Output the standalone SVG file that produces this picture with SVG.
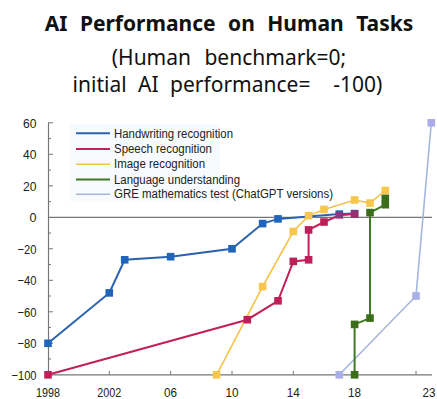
<svg xmlns="http://www.w3.org/2000/svg" width="437" height="399" viewBox="0 0 437 399">
<style>
.title{font-family:"Noto Sans","Liberation Sans",sans-serif;font-weight:bold;font-size:21px;fill:#111;word-spacing:7px}
.sub{font-family:"Noto Sans","Liberation Sans",sans-serif;font-size:21px;fill:#111}
.ax{font-family:"Liberation Sans",Arial,sans-serif;font-size:13px;fill:#222}
.lg{font-family:"Liberation Sans",Arial,sans-serif;font-size:12px;fill:#222}
.axis{stroke:#777;stroke-width:1.2;fill:none}
.tick{stroke:#777;stroke-width:1}
.hw{stroke:#2a62ae;stroke-width:2;fill:none}
.sp{stroke:#c1205a;stroke-width:2;fill:none}
.im{stroke:#f7c24a;stroke-width:1.6;fill:none}
.la{stroke:#3f7a22;stroke-width:2;fill:none}
.gre{stroke:#a4b6de;stroke-width:1.6;fill:none}
.mhw{fill:#2064bc}
.msp{fill:#c01e5a}
.mim{fill:#f7c64c}
.mla{fill:#3b6e1a}
.mgre{fill:#a9aee6}
</style>
<defs>
<rect id="m" x="-3.8" y="-3.8" width="7.6" height="7.6"/>
</defs>
<g id="title">
<text class="title" x="229" y="31" text-anchor="middle">AI Performance on Human Tasks</text>
<text class="sub" x="229" y="65" text-anchor="middle" word-spacing="8">(Human benchmark=0;</text>
<text class="sub" x="227.5" y="92" text-anchor="middle" word-spacing="6" xml:space="preserve">initial AI performance=  -100)</text>
</g>
<g id="axes">
<rect x="70" y="124" width="150" height="78" fill="#f8fbfe"/>
<line class="axis" x1="48.5" y1="123" x2="48.5" y2="375"/>
<line class="axis" x1="48" y1="374.8" x2="432" y2="374.8"/>
<line class="axis" x1="48" y1="217.3" x2="432" y2="217.3" stroke-width="1"/>
<g class="tick">
<line x1="48" y1="122.8" x2="53" y2="122.8"/><line x1="48" y1="138.6" x2="51" y2="138.6"/>
<line x1="48" y1="154.3" x2="53" y2="154.3"/><line x1="48" y1="170.1" x2="51" y2="170.1"/>
<line x1="48" y1="185.8" x2="53" y2="185.8"/><line x1="48" y1="201.6" x2="51" y2="201.6"/>
<line x1="48" y1="233" x2="51" y2="233"/><line x1="48" y1="248.8" x2="53" y2="248.8"/>
<line x1="48" y1="264.5" x2="51" y2="264.5"/><line x1="48" y1="280.3" x2="53" y2="280.3"/>
<line x1="48" y1="296" x2="51" y2="296"/><line x1="48" y1="311.8" x2="53" y2="311.8"/>
<line x1="48" y1="327.5" x2="51" y2="327.5"/><line x1="48" y1="343.3" x2="53" y2="343.3"/>
<line x1="48" y1="359" x2="51" y2="359"/>
<line x1="109.3" y1="371" x2="109.3" y2="374.8"/><line x1="170.6" y1="371" x2="170.6" y2="374.8"/>
<line x1="232" y1="371" x2="232" y2="374.8"/><line x1="293.3" y1="371" x2="293.3" y2="374.8"/>
<line x1="354.6" y1="371" x2="354.6" y2="374.8"/><line x1="416" y1="371" x2="416" y2="374.8"/>
</g>
<g class="ax" text-anchor="end">
<text x="36.5" y="127.5" textLength="13.5" lengthAdjust="spacingAndGlyphs">60</text>
<text x="36.5" y="159" textLength="13.5" lengthAdjust="spacingAndGlyphs">40</text>
<text x="36.5" y="190.5" textLength="13.5" lengthAdjust="spacingAndGlyphs">20</text>
<text x="36.5" y="222" textLength="7" lengthAdjust="spacingAndGlyphs">0</text>
<text x="36.5" y="253.5" textLength="19" lengthAdjust="spacingAndGlyphs">−20</text>
<text x="36.5" y="285" textLength="19" lengthAdjust="spacingAndGlyphs">−40</text>
<text x="36.5" y="316.5" textLength="19" lengthAdjust="spacingAndGlyphs">−60</text>
<text x="36.5" y="348" textLength="19" lengthAdjust="spacingAndGlyphs">−80</text>
<text x="36.5" y="379.5" textLength="25" lengthAdjust="spacingAndGlyphs">−100</text>
</g>
<g class="ax" text-anchor="middle">
<text x="48" y="397" textLength="24" lengthAdjust="spacingAndGlyphs">1998</text>
<text x="109.3" y="397" textLength="24" lengthAdjust="spacingAndGlyphs">2002</text>
<text x="170.6" y="397" textLength="13" lengthAdjust="spacingAndGlyphs">06</text>
<text x="232" y="397" textLength="13" lengthAdjust="spacingAndGlyphs">10</text>
<text x="293.3" y="397" textLength="13" lengthAdjust="spacingAndGlyphs">14</text>
<text x="354.6" y="397" textLength="13" lengthAdjust="spacingAndGlyphs">18</text>
<text x="429" y="397" textLength="13" lengthAdjust="spacingAndGlyphs">23</text>
</g>
</g>
<g id="legend">
<line class="hw" x1="76" y1="133.3" x2="110" y2="133.3"/>
<line class="sp" x1="76" y1="149" x2="110" y2="149"/>
<line class="im" x1="76" y1="164.3" x2="110" y2="164.3"/>
<line class="la" x1="76" y1="179.5" x2="110" y2="179.5"/>
<line class="gre" x1="76" y1="194.3" x2="110" y2="194.3"/>
<text class="lg" x="114" y="137.5" textLength="119" lengthAdjust="spacingAndGlyphs">Handwriting recognition</text>
<text class="lg" x="114" y="153" textLength="98" lengthAdjust="spacingAndGlyphs">Speech recognition</text>
<text class="lg" x="114" y="168.3" textLength="91" lengthAdjust="spacingAndGlyphs">Image recognition</text>
<text class="lg" x="114" y="183.5" textLength="126" lengthAdjust="spacingAndGlyphs">Language understanding</text>
<text class="lg" x="114" y="198.3" textLength="219" lengthAdjust="spacingAndGlyphs">GRE mathematics test (ChatGPT versions)</text>
</g>
<g id="connectors">
<polyline class="hw" points="48,343.3 109.3,292.9 124.7,259.8 170.6,256.7 232,248.8 262.6,223.6 278,218.9 339.3,214.1 354.6,213.6"/>
<polyline class="gre" points="339.3,374.8 416,296 431.3,122.8"/>
<polyline class="im" points="216.6,374.8 262.6,286.6 293.3,231.5 308.6,215.7 324,209.4 354.6,200 370,203.1 385.3,190.5"/>
<polyline class="sp" points="48,374.8 247.3,319.7 278,300.8 293.3,261.4 308.6,259.8 308.6,229.9 324,222 339.3,215.3 354.6,214.1"/>
<polyline class="la" points="354.6,374.8 354.6,324.4 370,318.1 370,212.6 385.3,204.7 385.3,198.4"/>
</g>
<g id="handwriting" class="mhw">
<use href="#m" x="48" y="343.3"/><use href="#m" x="109.3" y="292.9"/><use href="#m" x="124.7" y="259.8"/>
<use href="#m" x="170.6" y="256.7"/><use href="#m" x="232" y="248.8"/><use href="#m" x="262.6" y="223.6"/>
<use href="#m" x="278" y="218.9"/><use href="#m" x="339.3" y="214.1"/><use href="#m" x="354.6" y="213.6"/>
</g>
<g id="gre" class="mgre">
<use href="#m" x="339.3" y="374.8"/><use href="#m" x="416" y="296"/><use href="#m" x="431.3" y="122.8"/>
</g>
<g id="image" class="mim">
<use href="#m" x="216.6" y="374.8"/><use href="#m" x="262.6" y="286.6"/><use href="#m" x="293.3" y="231.5"/>
<use href="#m" x="308.6" y="215.7"/><use href="#m" x="324" y="209.4"/><use href="#m" x="354.6" y="200"/>
<use href="#m" x="370" y="203.1"/><use href="#m" x="385.3" y="190.5"/>
</g>
<g id="speech" class="msp">
<use href="#m" x="48" y="374.8"/><use href="#m" x="247.3" y="319.7"/><use href="#m" x="278" y="300.8"/>
<use href="#m" x="293.3" y="261.4"/><use href="#m" x="308.6" y="259.8"/><use href="#m" x="308.6" y="229.9"/>
<use href="#m" x="324" y="222"/><use href="#m" x="339.3" y="215.3" fill-opacity="0.6"/><use href="#m" x="354.6" y="214.1" fill-opacity="0.75"/>
</g>
<g id="language" class="mla">
<use href="#m" x="354.6" y="374.8"/><use href="#m" x="354.6" y="324.4"/><use href="#m" x="370" y="318.1"/>
<use href="#m" x="370" y="212.6"/><use href="#m" x="385.3" y="204.7"/><use href="#m" x="385.3" y="198.4"/>
</g>
</svg>
